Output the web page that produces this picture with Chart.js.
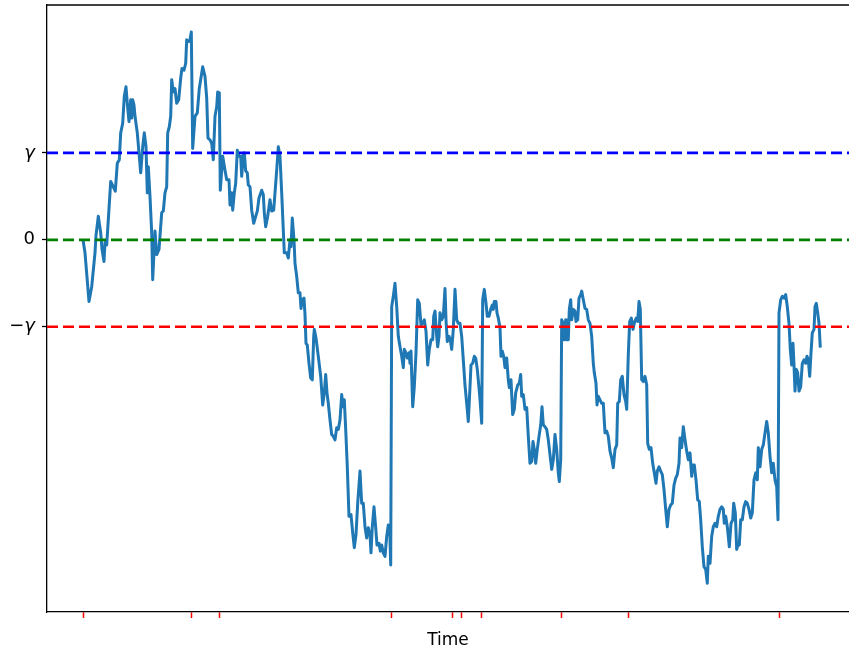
<!DOCTYPE html>
<html lang="en">

<head>
    <meta charset="UTF-8">
    <title>Random walk with thresholds</title>
    <script src="https://cdn.jsdelivr.net/npm/chart.js"></script>

    <style>
        body {
            margin: 0;
            background-color: #ffffff;
            overflow: hidden;
        }

        canvas {
            display: block;
        }
    </style>
</head>

<body>
    <canvas id="walk" width="849" height="649"></canvas>
</body>

</html>

<script>
    // sampled path (time, value) in units of gamma
    const timeStamps = [
        0, 2, 6, 8.7, 12, 13, 15.3, 17.7, 19, 21,
        22, 23.7, 25.3, 27.7, 30.3, 32.3, 34.3, 36.3, 37.7, 39.7,
        41.3, 43, 44.3, 46, 47.7, 48.7, 49.7, 51, 52, 54.3,
        56.3, 57.7, 59.7, 61.3, 63, 64.3, 65.3, 67, 68.7, 69.7,
        72, 73.7, 76, 78.7, 80.3, 82, 83.7, 84.7, 86.3, 87.7,
        88.7, 90.3, 92, 93.7, 95.7, 97.7, 99, 101, 102.7, 103.7,
        105.7, 107, 108.3, 109.7, 112, 114.3, 116.3, 119.7, 122, 123.7,
        125, 127, 128.7, 130.3, 132, 133.7, 134.7, 136.3, 137.3, 139.7,
        142, 143.7, 146, 147, 148.7, 149.7, 151.3, 152.7, 154.3, 156,
        157.7, 158.7, 160.3, 161.3, 162.7, 164.3, 165.3, 167, 168.7, 170.7,
        172.7, 174.3, 176, 178.7, 180.3, 181.3, 182.7, 184.7, 187, 188.7,
        190.7, 192, 193.7, 195.3, 197, 198.7, 200.3, 201.3, 203.7, 205.3,
        207, 208, 209.3, 211, 212, 213.7, 215.3, 217, 218, 219.3,
        221, 222, 223, 224.3, 226, 227.7, 229.3, 230.7, 231.3, 233,
        235.3, 237.7, 239.7, 241.3, 242.7, 244, 245.3, 247, 248.7, 250.3,
        252, 253.7, 255.3, 257, 258.7, 260, 261.3, 262.7, 264.3, 266,
        268, 269.7, 271.3, 273, 274.7, 277, 278.7, 280.3, 282, 283.7,
        285.3, 287, 288, 289.3, 291, 292.7, 294, 296, 297.3, 298.7,
        300.3, 302, 303.7, 305.3, 306.7, 307.7, 308.7, 310.3, 312, 313.7,
        315.3, 317, 318.7, 320.3, 321.3, 323, 324.3, 326, 327, 328,
        329.7, 331.3, 333, 334.7, 336.3, 338, 339.7, 341.3, 343, 344.7,
        346.3, 348, 349.7, 350.7, 352, 353.7, 354.7, 356, 357, 358.7,
        360.3, 362, 363, 364.3, 366, 367.3, 368.7, 370.3, 372, 373.7,
        375.3, 377, 378.7, 380.3, 382, 383.7, 385.3, 387, 388, 389.7,
        391.3, 392.7, 394.3, 396, 397.3, 398.7, 399.7, 401.3, 403, 404.3,
        406, 407.7, 409.3, 410.3, 411.3, 413, 414, 415.3, 417, 418,
        419.3, 420.7, 422, 423.7, 425.3, 426.3, 428, 429.7, 431.3, 432.7,
        434.7, 436.3, 437.7, 438.7, 440.3, 442, 443.7, 445.3, 447, 448.7,
        450, 451.3, 452.7, 454.3, 456, 457.7, 459, 460.3, 462, 463.7,
        465.3, 467, 468.7, 470.3, 472, 473.7, 475.3, 476.3, 477.7, 478.7,
        480.3, 481.3, 482.7, 483.7, 484.7, 485.3, 486.3, 487.7, 488.7, 490.3,
        492, 493, 494.7, 496, 497.7, 498.7, 500.3, 502, 503.7, 505.3,
        507, 508.7, 510.3, 511.3, 513, 514, 515.3, 517, 518.7, 520.3,
        522, 523.7, 525.3, 527, 528.7, 530.3, 532, 533.7, 534.7, 536.3,
        537.7, 539.3, 541, 542.7, 543.7, 545.3, 546.7, 548.3, 550, 551.7,
        553.3, 554.7, 556, 557.3, 558.7, 560.3, 562, 563.7, 564.7, 566.3,
        568, 569.7, 571.3, 573, 574.3, 576, 577.7, 579.3, 581, 582.7,
        584.3, 586, 587.7, 589.3, 591, 592.7, 594.3, 596, 597, 598.7,
        600.3, 602, 603.7, 605.3, 607, 608.7, 609.7, 611.3, 613, 614.7,
        616.3, 617.7, 619.3, 621, 622.7, 624.3, 625.3, 627, 628.7, 630.3,
        632, 633.7, 635.3, 637, 638.7, 640.3, 641.3, 642.7, 644.3, 645.3,
        646.3, 648, 649.7, 650.7, 652.3, 653.7, 655.3, 656.3, 657.7, 659.3,
        661, 662.7, 664.3, 666, 667.7, 669.3, 671, 672.7, 674.3, 675.3,
        677, 678.7, 680.3, 682, 683.7, 685.3, 687, 688.7, 690.3, 692,
        693.7, 695, 696, 697.7, 699.3, 701, 702.7, 704.3, 706, 707.3,
        708.7, 710, 711, 712, 713.3, 714.7, 716, 717.7, 719.3, 721,
        722.7, 724, 725.3, 726.7, 728, 729.3, 731, 732, 733.3, 734.7,
        736, 737.3
    ];

    const walkValues = [
        0, -0.15, -0.71, -0.54, -0.15, 0.05, 0.27, 0.08, -0.11, -0.25,
        -0.03, -0.06, 0.23, 0.67, 0.61, 0.56, 0.88, 0.92, 1.23, 1.34,
        1.65, 1.76, 1.57, 1.36, 1.61, 1.40, 1.61, 1.55, 1.42, 1.23,
        0.96, 0.77, 1.07, 1.23, 1.07, 0.54, 0.84, 0.50, 0.08, -0.46,
        0.10, -0.17, -0.11, 0.31, 0.33, 0.54, 0.61, 1.23, 1.30, 1.42,
        1.84, 1.70, 1.74, 1.57, 1.61, 1.86, 1.97, 1.95, 2.03, 2.30,
        2.28, 2.30, 2.39, 1.05, 1.42, 1.46, 1.74, 1.99, 1.88, 1.63,
        1.17, 1.15, 1.11, 0.92, 1.42, 1.53, 1.70, 1.69, 0.57, 0.96,
        0.80, 0.69, 0.69, 0.40, 0.54, 0.34, 0.54, 0.65, 1.03, 0.96,
        0.96, 0.73, 0.98, 1.00, 0.79, 0.77, 0.63, 0.61, 0.34, 0.19,
        0.27, 0.33, 0.48, 0.57, 0.52, 0.31, 0.15, 0.27, 0.46, 0.33,
        0.34, 0.54, 0.80, 1.07, 0.96, 0.54, 0.11, -0.15, -0.15, -0.21,
        0.00, -0.08, 0.25, 0.00, -0.27, -0.42, -0.61, -0.61, -0.79, -0.69,
        -0.67, -0.86, -1.19, -1.21, -1.42, -1.59, -1.61, -1.11, -1.03, -1.13,
        -1.34, -1.57, -1.90, -1.76, -1.55, -1.76, -1.88, -2.07, -2.24, -2.26,
        -2.30, -2.16, -2.18, -2.07, -1.78, -1.92, -1.84, -2.18, -2.61, -3.18,
        -3.16, -3.37, -3.54, -3.39, -3.03, -2.66, -3.03, -3.03, -3.30, -3.43,
        -3.31, -3.39, -3.60, -3.30, -3.07, -3.31, -3.51, -3.49, -3.58, -3.51,
        -3.60, -3.64, -3.41, -3.28, -3.33, -3.74, -0.77, -0.65, -0.50, -0.77,
        -1.11, -1.23, -1.34, -1.47, -1.26, -1.30, -1.36, -1.30, -1.42, -1.28,
        -1.92, -1.69, -1.30, -0.69, -0.73, -0.98, -0.96, -0.92, -1.05, -1.44,
        -1.26, -1.15, -1.15, -0.88, -0.82, -1.11, -1.23, -1.11, -0.84, -0.92,
        -0.88, -0.56, -0.92, -1.17, -1.11, -1.15, -1.26, -1.03, -0.57, -0.92,
        -0.96, -0.96, -1.11, -1.38, -1.67, -1.88, -2.09, -1.69, -1.44, -1.42,
        -1.34, -1.36, -1.49, -1.70, -1.88, -2.11, -0.69, -0.57, -0.73, -0.88,
        -0.88, -0.80, -0.75, -0.80, -0.71, -0.71, -0.84, -0.90, -1.01, -1.34,
        -1.28, -1.34, -1.47, -1.36, -1.61, -1.70, -1.61, -2.01, -1.95, -1.76,
        -1.67, -1.65, -1.55, -1.80, -1.78, -1.95, -1.93, -2.26, -2.57, -2.55,
        -2.32, -2.41, -2.57, -2.41, -2.26, -2.13, -1.92, -2.13, -2.15, -2.18,
        -2.30, -2.47, -2.64, -2.53, -2.24, -2.41, -2.68, -2.78, -2.53, -0.92,
        -0.96, -1.15, -0.92, -1.15, -0.92, -1.15, -0.80, -0.69, -0.92, -0.80,
        -0.82, -0.94, -0.92, -0.67, -0.63, -0.59, -0.69, -0.79, -0.80, -0.92,
        -0.96, -1.11, -1.42, -1.53, -1.65, -1.90, -1.80, -1.84, -1.88, -1.88,
        -2.22, -2.20, -2.26, -2.43, -2.51, -2.62, -2.41, -2.36, -1.88, -1.86,
        -1.61, -1.57, -1.78, -1.86, -1.95, -1.32, -0.94, -0.90, -1.03, -0.94,
        -0.90, -0.94, -0.71, -0.80, -1.61, -1.63, -1.57, -1.67, -2.34, -2.41,
        -2.39, -2.57, -2.68, -2.80, -2.66, -2.61, -2.66, -2.70, -2.87, -3.10,
        -3.30, -3.10, -3.05, -3.03, -2.82, -2.74, -2.70, -2.57, -2.28, -2.39,
        -2.15, -2.30, -2.43, -2.53, -2.45, -2.72, -2.59, -2.59, -2.76, -2.99,
        -3.01, -3.22, -3.53, -3.76, -3.79, -3.95, -3.64, -3.72, -3.41, -3.30,
        -3.26, -3.30, -3.18, -3.10, -3.07, -3.10, -3.26, -3.18, -3.30, -3.41,
        -3.53, -3.26, -3.22, -3.03, -3.14, -3.56, -3.49, -3.51, -3.22, -3.22,
        -3.07, -3.01, -3.03, -3.10, -3.20, -3.14, -2.76, -2.68, -2.76, -2.39,
        -2.61, -2.41, -2.36, -2.22, -2.09, -2.22, -2.49, -2.68, -2.57, -2.76,
        -2.84, -3.22, -0.84, -0.69, -0.65, -0.67, -0.63, -0.77, -0.96, -1.26,
        -1.44, -1.19, -1.44, -1.74, -1.49, -1.53, -1.74, -1.69, -1.42, -1.38,
        -1.42, -1.34, -1.38, -1.57, -1.30, -1.07, -1.03, -0.77, -0.73, -0.84,
        -0.96, -1.24
    ];

    const gamma = 1;
    const levelValues = [gamma, 0, -gamma];
    const levelColors = ['#0000ff', '#008000', '#ff0000'];

    const yTickValues = [-gamma, 0, gamma];
    const yTickLabels = ['−γ', '0', 'γ'];

    // red marks on the time axis
    const xTickTimes = [0, 108.5, 136, 308, 369.6, 378.3, 398.9, 478.5, 545, 696];

    const xMin = -36, xMax = 766;
    const yMin = -4.28, yMax = 2.70;

    const pathPoints = timeStamps.map((t, i) => ({ x: t, y: walkValues[i] }));

    const levelSets = levelValues.map((lv, i) => ({
        data: [{ x: xMin, y: lv }, { x: xMax, y: lv }],
        borderColor: levelColors[i],
        borderWidth: 2.7,
        borderDash: [11, 5],
        pointRadius: 0,
        order: 0
    }));

    const topBorder = {
        id: 'topBorder',
        afterDraw(chart) {
            const a = chart.chartArea;
            const ctx = chart.ctx;
            ctx.save();
            ctx.strokeStyle = '#000';
            ctx.lineWidth = 1.3;
            ctx.beginPath();
            ctx.moveTo(a.left, a.top);
            ctx.lineTo(a.right, a.top);
            ctx.stroke();
            ctx.restore();
        }
    };

    new Chart(document.getElementById('walk'), {
        type: 'line',
        data: {
            datasets: [
                ...levelSets,
                {
                    data: pathPoints,
                    borderColor: '#1f77b4',
                    borderWidth: 3,
                    pointRadius: 0,
                    tension: 0,
                    borderJoinStyle: 'round',
                    order: 1
                }
            ]
        },
        options: {
            responsive: false,
            animation: false,
            devicePixelRatio: 1,
            layout: { padding: { top: 5, right: 0, left: 0, bottom: 0 } },
            plugins: {
                legend: { display: false },
                tooltip: { enabled: false }
            },
            scales: {
                x: {
                    type: 'linear',
                    min: xMin,
                    max: xMax,
                    afterBuildTicks: s => { s.ticks = xTickTimes.map(v => ({ value: v })); },
                    afterFit: s => { s.height = 37; s.paddingLeft = 0; s.paddingRight = 0; },
                    ticks: { display: false },
                    grid: {
                        drawOnChartArea: false,
                        drawTicks: true,
                        tickLength: 6,
                        color: '#ff0000',
                        tickColor: '#ff0000',
                        tickWidth: 1.5
                    },
                    border: { display: true, color: '#000', width: 1.3 },
                    title: {
                        display: true,
                        text: 'Time',
                        color: '#000',
                        font: { family: 'DejaVu Sans', size: 17 },
                        padding: { top: 0, bottom: -2 }
                    }
                },
                y: {
                    type: 'linear',
                    min: yMin,
                    max: yMax,
                    afterBuildTicks: s => { s.ticks = yTickValues.map(v => ({ value: v })); },
                    afterFit: s => { s.width = 47; s.paddingTop = 0; s.paddingBottom = 0; },
                    ticks: {
                        color: '#000',
                        padding: 7,
                        font: ctx => ({
                            family: 'DejaVu Sans',
                            size: 18,
                            style: ctx.tick && ctx.tick.value !== 0 ? 'italic' : 'normal'
                        }),
                        callback: v => yTickLabels[yTickValues.indexOf(v)]
                    },
                    grid: {
                        drawOnChartArea: false,
                        drawTicks: true,
                        tickLength: 5,
                        tickColor: '#000',
                        tickWidth: 1.3
                    },
                    border: { display: true, color: '#000', width: 1.3 }
                }
            }
        },
        plugins: [topBorder]
    });
</script>
